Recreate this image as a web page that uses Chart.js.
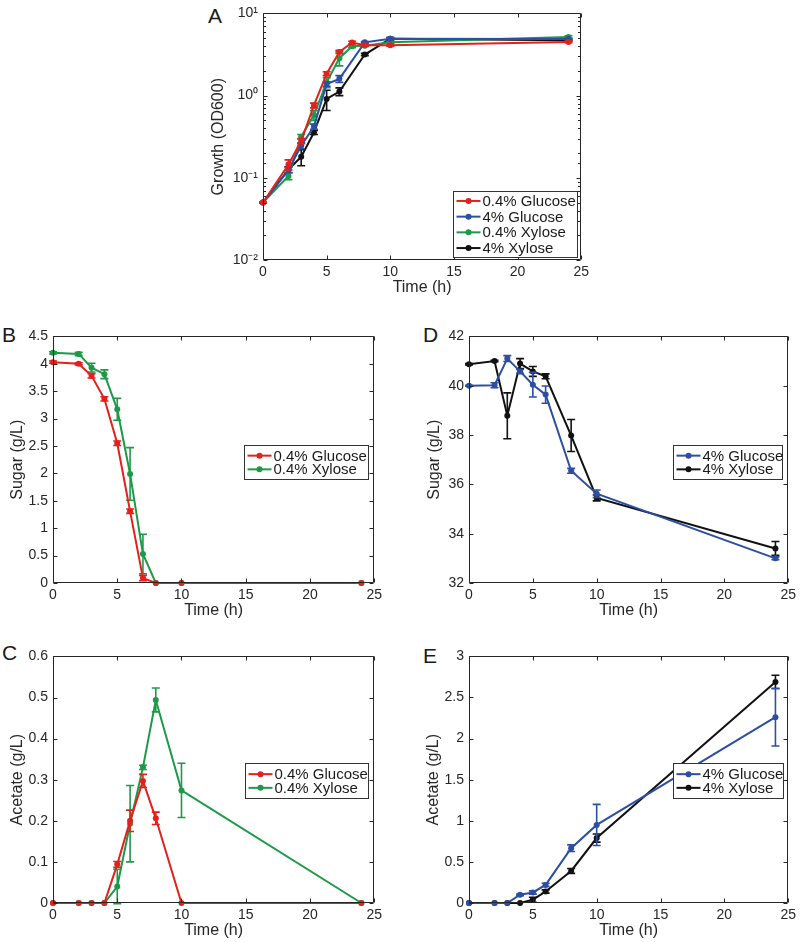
<!DOCTYPE html>
<html>
<head>
<meta charset="utf-8">
<script src="https://cdn.jsdelivr.net/npm/chart.js@4.4.1/dist/chart.umd.min.js"></script>
<style>
body { margin: 0; background: #fff; width: 800px; height: 942px; position: relative; overflow: hidden; font-family: "Liberation Sans", Arial, sans-serif; }
canvas { position: absolute; }
.letter { position: absolute; font-size: 21px; line-height: 1; color: #1a1a1a; }
</style>
</head>
<body>
<div class="letter" style="left:208px;top:5px">A</div>
<div class="letter" style="left:2px;top:324px">B</div>
<div class="letter" style="left:2px;top:642px">C</div>
<div class="letter" style="left:423px;top:324px">D</div>
<div class="letter" style="left:423px;top:645px">E</div>

<canvas id="growth" width="390" height="299" style="left:203px;top:0px"></canvas>
<canvas id="sugarLow" width="386" height="299" style="left:0px;top:323px"></canvas>
<canvas id="acetateLow" width="386" height="299" style="left:0px;top:643px"></canvas>
<canvas id="sugarHigh" width="384" height="299" style="left:416px;top:323px"></canvas>
<canvas id="acetateHigh" width="384" height="299" style="left:416px;top:643px"></canvas>

<script>
// sampling times (h)
const timeLow = [0, 2, 3, 4, 5, 6, 7, 8, 10, 24];   // 0.4% cultures
const timeHigh = [0, 2, 3, 4, 5, 6, 8, 10, 24];     // 4% cultures

// A - growth (OD600)
const glc04Growth = [0.05, 0.145, 0.28, 0.76, 1.85, 3.4, 4.43, 4.1, 4.1, 4.5];
const glc04GrowthErr = [0.001, 0.02, 0.02, 0.05, 0.1, 0.15, 0.15, 0.1, 0.1, 0.1];
const glc4Growth = [0.05, 0.125, 0.246, 0.42, 1.38, 1.6, 4.45, 4.92, 4.87];
const glc4GrowthErr = [0.001, 0.01, 0.02, 0.03, 0.08, 0.15, 0.1, 0.15, 0.1];
const xyl04Growth = [0.05, 0.105, 0.316, 0.58, 1.45, 2.85, 3.98, 4.05, 4.45, 5.15];
const xyl04GrowthErr = [0.001, 0.01, 0.02, 0.08, 0.2, 0.55, 0.15, 0.1, 0.1, 0.2];
const xyl4Growth = [0.05, 0.126, 0.18, 0.356, 0.91, 1.12, 3.16, 4.92, 4.7];
const xyl4GrowthErr = [0.001, 0.01, 0.04, 0.02, 0.25, 0.12, 0.1, 0.15, 0.1];

// B - sugar, 0.4%
const glc04Sugar = [4.03, 4.0, 3.78, 3.36, 2.55, 1.31, 0.09, 0, 0, 0];
const glc04SugarErr = [0.02, 0.02, 0.04, 0.04, 0.04, 0.04, 0.05, 0, 0, 0];
const xyl04Sugar = [4.2, 4.18, 3.93, 3.81, 3.17, 1.99, 0.53, 0, 0, 0];
const xyl04SugarErr = [0.02, 0.03, 0.08, 0.08, 0.2, 0.48, 0.36, 0, 0, 0];

// C - acetate, 0.4%
const glc04Acetate = [0, 0, 0, 0, 0.094, 0.2, 0.297, 0.206, 0, 0];
const glc04AcetateErr = [0, 0, 0, 0, 0.007, 0.026, 0.016, 0.015, 0, 0];
const xyl04Acetate = [0, 0, 0, 0, 0.04, 0.193, 0.33, 0.494, 0.274, 0];
const xyl04AcetateErr = [0, 0, 0, 0, 0.042, 0.093, 0.005, 0.029, 0.066, 0];

// D - sugar, 4%
const glc4Sugar = [40.0, 40.02, 41.1, 40.58, 40.04, 39.64, 36.55, 35.62, 33.0];
const glc4SugarErr = [0.02, 0.1, 0.12, 0.08, 0.5, 0.35, 0.1, 0.15, 0.06];
const xyl4Sugar = [40.87, 41.0, 38.78, 40.9, 40.58, 40.38, 37.98, 35.45, 33.4];
const xyl4SugarErr = [0.03, 0.03, 0.93, 0.2, 0.2, 0.1, 0.65, 0.12, 0.28];

// E - acetate, 4%
const glc4Acetate = [0, 0, 0, 0.1, 0.128, 0.22, 0.667, 0.95, 2.26];
const glc4AcetateErr = [0, 0, 0, 0.01, 0.02, 0.02, 0.04, 0.25, 0.35];
const xyl4Acetate = [0, 0, 0, 0, 0.04, 0.14, 0.39, 0.79, 2.69];
const xyl4AcetateErr = [0, 0, 0, 0, 0.03, 0.02, 0.03, 0.05, 0.08];

const labelGlc04 = '0.4% Glucose';
const labelGlc4 = '4% Glucose';
const labelXyl04 = '0.4% Xylose';
const labelXyl4 = '4% Xylose';

const RED = '#e3211c';
const BLUE = '#2c4ea3';
const GREEN = '#1d9a48';
const BLACK = '#111111';
const AXIS = '#262626';
const FONT = '"Liberation Sans", Arial, sans-serif';

function series(label, times, values, errors, color) {
    return {
        label: label,
        data: times.map((t, i) => ({ x: t, y: values[i] })),
        errors: errors,
        borderColor: color,
        backgroundColor: color,
        borderWidth: 2,
        pointRadius: 3,
        pointBorderWidth: 0,
        pointBackgroundColor: color,
        tension: 0,
        clip: false,
    };
}

function isPow10(v) {
    const l = Math.log10(v);
    return Math.abs(l - Math.round(l)) < 1e-6;
}

const SUP = { '-': '\u207B', '0': '\u2070', '1': '\u00B9', '2': '\u00B2', '3': '\u00B3' };
function powLabel(v) {
    const e = String(Math.round(Math.log10(v)));
    return '10' + e.split('').map(c => SUP[c]).join('');
}

// vertical error bars with caps, drawn with each dataset
const errorBars = {
    id: 'errorBars',
    afterDatasetDraw(chart, args) {
        const ds = chart.data.datasets[args.index];
        if (!ds.errors) return;
        const xs = chart.scales.x;
        const ys = chart.scales.y;
        const ctx = chart.ctx;
        ctx.save();
        ctx.strokeStyle = ds.borderColor;
        ctx.lineWidth = 1.6;
        ds.data.forEach((p, i) => {
            const e = ds.errors[i];
            if (!e) return;
            let lo = p.y - e;
            if (ys.type === 'logarithmic') lo = Math.max(lo, 1e-4);
            const px = xs.getPixelForValue(p.x);
            const yTop = ys.getPixelForValue(p.y + e);
            const yBot = ys.getPixelForValue(lo);
            ctx.beginPath();
            ctx.moveTo(px, yTop); ctx.lineTo(px, yBot);
            ctx.moveTo(px - 4, yTop); ctx.lineTo(px + 4, yTop);
            ctx.moveTo(px - 4, yBot); ctx.lineTo(px + 4, yBot);
            ctx.stroke();
        });
        ctx.restore();
    }
};

// box around the axes with inward ticks on all four sides
const matlabBox = {
    id: 'matlabBox',
    afterDatasetsDraw(chart) {
        const { ctx, chartArea: a, scales } = chart;
        const L = Math.round(a.left) + 0.5, R = Math.round(a.right) - 0.5;
        const T = Math.round(a.top) + 0.5, B = Math.round(a.bottom) - 0.5;
        ctx.save();
        ctx.strokeStyle = AXIS;
        ctx.lineWidth = 1;
        ctx.beginPath();
        ctx.rect(L, T, R - L, B - T);
        scales.x.ticks.forEach(t => {
            const px = Math.round(scales.x.getPixelForValue(t.value)) + 0.5;
            ctx.moveTo(px, B); ctx.lineTo(px, B - 4);
            ctx.moveTo(px, T); ctx.lineTo(px, T + 4);
        });
        const logY = scales.y.type === 'logarithmic';
        scales.y.ticks.forEach(t => {
            const len = !logY || isPow10(t.value) ? 4 : 2.5;
            const py = Math.round(scales.y.getPixelForValue(t.value)) + 0.5;
            ctx.moveTo(L, py); ctx.lineTo(L + len, py);
            ctx.moveTo(R, py); ctx.lineTo(R - len, py);
        });
        ctx.stroke();
        ctx.restore();
    }
};

// legend box inside the axes, like MATLAB's
const insideLegend = {
    id: 'insideLegend',
    afterDraw(chart, args, opts) {
        const { ctx, chartArea: a } = chart;
        const sets = chart.data.datasets;
        const x = Math.round(a.left + opts.x) + 0.5;
        const y = Math.round(a.top + opts.y) + 0.5;
        const h = opts.h;
        ctx.save();
        ctx.fillStyle = '#fff';
        ctx.fillRect(x, y, opts.w, h);
        ctx.strokeStyle = '#333';
        ctx.lineWidth = 1;
        ctx.strokeRect(x, y, opts.w, h);
        ctx.font = '15px ' + FONT;
        ctx.textBaseline = 'middle';
        ctx.textAlign = 'left';
        const first = y + h / 2 - opts.rowH * (sets.length - 1) / 2;
        sets.forEach((ds, i) => {
            const cy = first + i * opts.rowH;
            ctx.strokeStyle = ds.borderColor;
            ctx.lineWidth = 2;
            ctx.beginPath();
            ctx.moveTo(x + 3, cy); ctx.lineTo(x + 27, cy);
            ctx.stroke();
            ctx.fillStyle = ds.borderColor;
            ctx.beginPath();
            ctx.arc(x + 15, cy, 3, 0, Math.PI * 2);
            ctx.fill();
            ctx.fillStyle = '#1a1a1a';
            ctx.fillText(ds.label, x + 29, cy + 1);
        });
        ctx.restore();
    }
};

function plainNumber(v) {
    return String(parseFloat(Number(v).toFixed(3)));
}

function makeOptions(p) {
    return {
        responsive: false,
        animation: false,
        events: [],
        layout: { padding: { left: 0, top: 10, right: 9, bottom: 0 } },
        plugins: {
            legend: { display: false },
            tooltip: { enabled: false },
            insideLegend: p.legend,
        },
        scales: {
            x: {
                type: 'linear',
                min: 0,
                max: 25,
                grid: { display: false, drawTicks: false },
                border: { display: false },
                ticks: { stepSize: 5, padding: 4, color: AXIS, font: { family: FONT, size: 14 } },
                title: { display: true, text: 'Time (h)', color: AXIS, padding: { top: 0, bottom: 2 }, font: { family: FONT, size: 16 } },
                afterFit: s => { s.height = 39; },
            },
            y: {
                type: p.log ? 'logarithmic' : 'linear',
                min: p.min,
                max: p.max,
                grid: { display: false, drawTicks: false },
                border: { display: false },
                ticks: {
                    stepSize: p.step,
                    autoSkip: false,
                    padding: 5,
                    color: AXIS,
                    font: { family: FONT, size: 14 },
                    callback: p.log ? (v => (isPow10(v) ? powLabel(v) : '')) : plainNumber,
                },
                title: { display: true, text: p.title, color: AXIS, padding: { top: p.titlePad, bottom: 0 }, font: { family: FONT, size: 16 } },
                afterFit: s => { s.width = p.axisWidth; },
            },
        },
    };
}

const plugins = [errorBars, matlabBox, insideLegend];

const chartGrowth = new Chart(document.getElementById('growth'), {
    type: 'line',
    data: {
        datasets: [
            series(labelGlc04, timeLow, glc04Growth, glc04GrowthErr, RED),
            series(labelGlc4, timeHigh, glc4Growth, glc4GrowthErr, BLUE),
            series(labelXyl04, timeLow, xyl04Growth, xyl04GrowthErr, GREEN),
            series(labelXyl4, timeHigh, xyl4Growth, xyl4GrowthErr, BLACK),
        ]
    },
    plugins: plugins,
    options: makeOptions({
        log: true, min: 0.01, max: 10, title: 'Growth (OD600)', titlePad: 6.4, axisWidth: 60,
        legend: { x: 190, y: 177.3, w: 124, h: 66, rowH: 15.7 },
    }),
});

const chartSugarLow = new Chart(document.getElementById('sugarLow'), {
    type: 'line',
    data: {
        datasets: [
            series(labelGlc04, timeLow, glc04Sugar, glc04SugarErr, RED),
            series(labelXyl04, timeLow, xyl04Sugar, xyl04SugarErr, GREEN),
        ]
    },
    plugins: plugins,
    options: makeOptions({
        min: 0, max: 4.5, step: 0.5, title: 'Sugar (g/L)', titlePad: 8.4, axisWidth: 53,
        legend: { x: 191, y: 108.7, w: 124, h: 34, rowH: 13.7 },
    }),
});

const chartAcetateLow = new Chart(document.getElementById('acetateLow'), {
    type: 'line',
    data: {
        datasets: [
            series(labelGlc04, timeLow, glc04Acetate, glc04AcetateErr, RED),
            series(labelXyl04, timeLow, xyl04Acetate, xyl04AcetateErr, GREEN),
        ]
    },
    plugins: plugins,
    options: makeOptions({
        min: 0, max: 0.6, step: 0.1, title: 'Acetate (g/L)', titlePad: 8.4, axisWidth: 53,
        legend: { x: 192, y: 107, w: 123, h: 35, rowH: 13.7 },
    }),
});

const chartSugarHigh = new Chart(document.getElementById('sugarHigh'), {
    type: 'line',
    data: {
        datasets: [
            series(labelGlc4, timeHigh, glc4Sugar, glc4SugarErr, BLUE),
            series(labelXyl4, timeHigh, xyl4Sugar, xyl4SugarErr, BLACK),
        ]
    },
    plugins: plugins,
    options: makeOptions({
        min: 32, max: 42, step: 2, title: 'Sugar (g/L)', titlePad: 9.4, axisWidth: 53,
        legend: { x: 203.7, y: 108.7, w: 109, h: 34, rowH: 13.7 },
    }),
});

const chartAcetateHigh = new Chart(document.getElementById('acetateHigh'), {
    type: 'line',
    data: {
        datasets: [
            series(labelGlc4, timeHigh, glc4Acetate, glc4AcetateErr, BLUE),
            series(labelXyl4, timeHigh, xyl4Acetate, xyl4AcetateErr, BLACK),
        ]
    },
    plugins: plugins,
    options: makeOptions({
        min: 0, max: 3, step: 0.5, title: 'Acetate (g/L)', titlePad: 8.4, axisWidth: 53,
        legend: { x: 203.7, y: 107, w: 110, h: 35, rowH: 13.7 },
    }),
});
</script>
</body>
</html>
